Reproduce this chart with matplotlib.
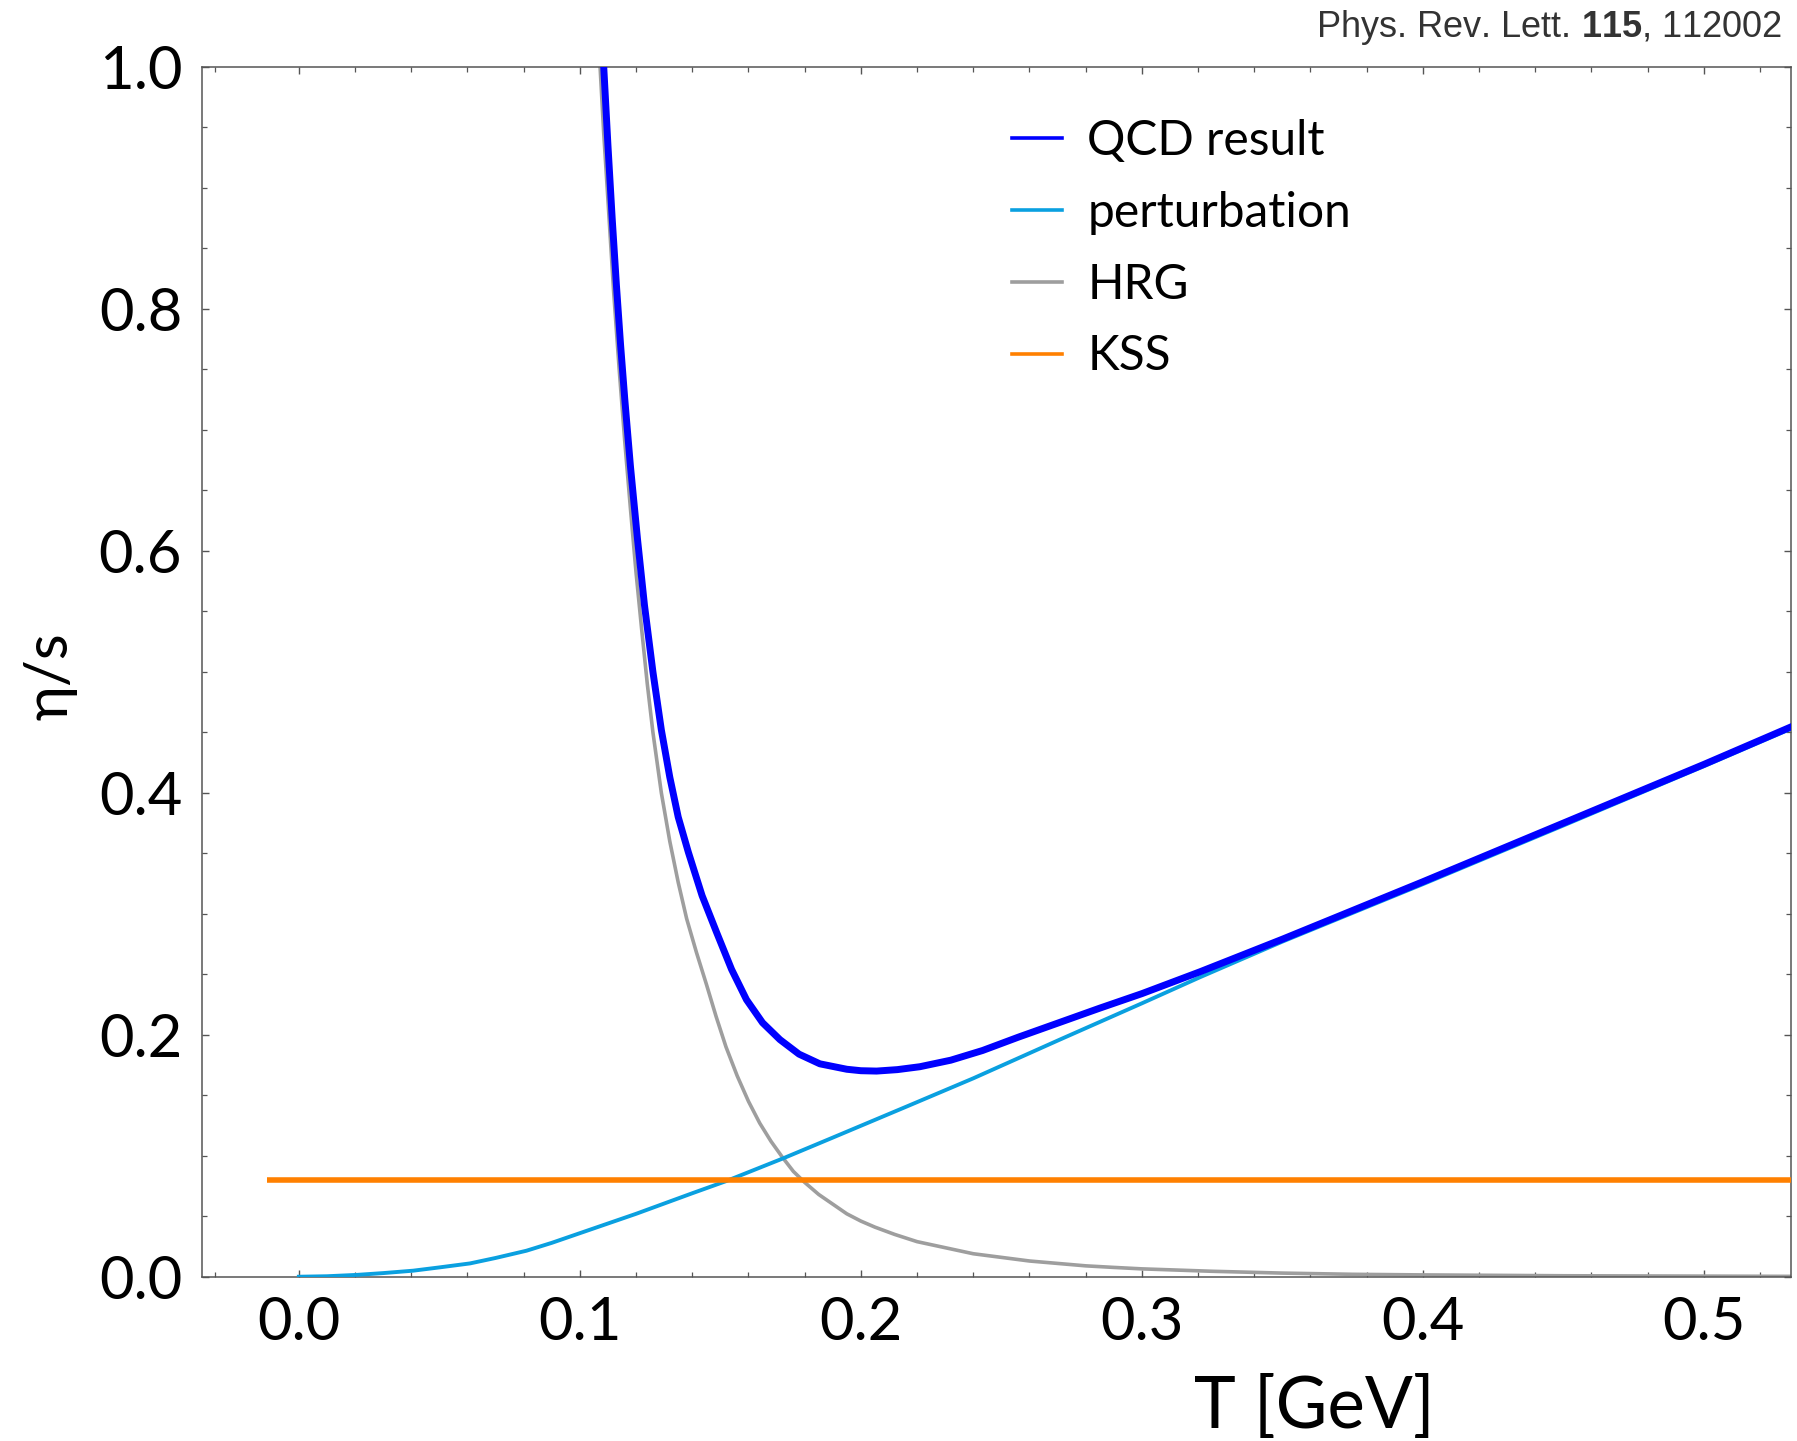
import matplotlib
matplotlib.use("Agg")
import matplotlib.pyplot as plt
from matplotlib.lines import Line2D
from matplotlib.ticker import FixedLocator, FormatStrFormatter

plt.rcParams["font.family"] = ["Lato", "Open Sans", "DejaVu Sans"]
plt.rcParams["mathtext.fontset"] = "custom"
plt.rcParams["mathtext.rm"] = "Liberation Sans"
plt.rcParams["mathtext.bf"] = "Liberation Sans:bold"

# values
qcd_T = [0.1085, 0.110, 0.1115, 0.113, 0.1145, 0.116, 0.118, 0.1205, 0.123, 0.126,
         0.129, 0.132, 0.135, 0.1386, 0.1435, 0.1486, 0.154, 0.1593, 0.165, 0.1712,
         0.178, 0.1854, 0.195, 0.200, 0.2056, 0.213, 0.221, 0.232, 0.2433, 0.256,
         0.2705, 0.285, 0.30, 0.3206, 0.35, 0.40, 0.45, 0.50, 0.531]
qcd_eta = [1.0, 0.935, 0.875, 0.82, 0.77, 0.725, 0.67, 0.61, 0.555, 0.50,
           0.452, 0.413, 0.38, 0.351, 0.315, 0.285, 0.254, 0.229, 0.210, 0.196,
           0.184, 0.176, 0.1715, 0.1703, 0.170, 0.1712, 0.1736, 0.179, 0.187, 0.198,
           0.210, 0.222, 0.234, 0.252, 0.279, 0.3265, 0.375, 0.4235, 0.4545]

pert_T = [0.0, 0.01, 0.0205, 0.03, 0.0407, 0.05, 0.0609, 0.07, 0.081, 0.09, 0.100,
          0.11, 0.12, 0.13, 0.14, 0.152, 0.1725, 0.19, 0.2161, 0.24, 0.2705, 0.30,
          0.3206, 0.35, 0.40, 0.45, 0.50, 0.531]
pert_eta = [0.0, 0.0004, 0.0015, 0.003, 0.005, 0.0077, 0.011, 0.0155, 0.0215, 0.028, 0.036,
            0.044, 0.052, 0.0605, 0.069, 0.079, 0.098, 0.115, 0.1405, 0.164, 0.1957, 0.226,
            0.2475, 0.277, 0.3245, 0.373, 0.422, 0.453]

hrg_T = [0.1072, 0.1085, 0.110, 0.112, 0.114, 0.116, 0.118, 0.120, 0.122, 0.124,
         0.126, 0.129, 0.132, 0.135, 0.138, 0.1415, 0.145, 0.1485, 0.152, 0.156,
         0.160, 0.164, 0.168, 0.172, 0.176, 0.180, 0.185, 0.190, 0.195, 0.200,
         0.205, 0.212, 0.22, 0.23, 0.24, 0.25, 0.26, 0.27, 0.28, 0.29, 0.30,
         0.325, 0.35, 0.375, 0.40, 0.45, 0.50, 0.531]
hrg_eta = [1.0, 0.945, 0.89, 0.815, 0.75, 0.69, 0.635, 0.582, 0.535, 0.49,
           0.45, 0.40, 0.36, 0.326, 0.296, 0.268, 0.242, 0.215, 0.19, 0.166,
           0.145, 0.127, 0.112, 0.099, 0.087, 0.078, 0.068, 0.06, 0.052, 0.046,
           0.041, 0.035, 0.029, 0.024, 0.019, 0.016, 0.013, 0.011, 0.009, 0.0077, 0.0065,
           0.0045, 0.003, 0.002, 0.0015, 0.0008, 0.0005, 0.0003]

kss_T = [-0.0114, 0.531]
kss_eta = [0.0796, 0.0796]

labels = ["QCD result", "perturbation", "HRG", "KSS"]
colors = ["#0000FF", "#0AA0E0", "#9E9E9E", "#FF8000"]

fig = plt.figure(figsize=(17.97, 14.41), dpi=100)
ax = fig.add_axes([0.1122, 0.1140, 0.8843, 0.8395])

ax.plot(hrg_T, hrg_eta, color=colors[2], lw=2.6, zorder=2)
ax.plot(pert_T, pert_eta, color=colors[1], lw=2.8, zorder=3)
ax.plot(kss_T, kss_eta, color=colors[3], lw=4.0, zorder=4, solid_capstyle="butt")
ax.plot(qcd_T, qcd_eta, color=colors[0], lw=5.0, zorder=5)

ax.set_xlim(-0.0346, 0.5309)
ax.set_ylim(0, 1)

ax.xaxis.set_major_locator(FixedLocator([0.0, 0.1, 0.2, 0.3, 0.4, 0.5]))
ax.xaxis.set_minor_locator(FixedLocator([-0.03] + [k * 0.02 for k in range(1, 27) if k % 5 != 0]))
ax.yaxis.set_major_locator(FixedLocator([0.0, 0.2, 0.4, 0.6, 0.8, 1.0]))
ax.yaxis.set_minor_locator(FixedLocator([k * 0.05 for k in range(1, 20) if k % 4 != 0]))
ax.xaxis.set_major_formatter(FormatStrFormatter("%.1f"))
ax.yaxis.set_major_formatter(FormatStrFormatter("%.1f"))

ax.tick_params(which="both", direction="in", top=True, right=True, color="#555555")
ax.tick_params(which="major", length=5, width=1.0, labelsize=43, pad=14)
ax.tick_params(which="minor", length=3.6, width=0.9)
for s in ax.spines.values():
    s.set_color("#555555")
    s.set_linewidth(1.1)

ax.set_xlabel("T [GeV]", fontsize=51)
ax.xaxis.set_label_coords(0.70, -0.081)
ax.set_ylabel("η/s", fontsize=43)
ax.yaxis.set_label_coords(-0.078, 0.4966)

handles = [Line2D([], [], color=c, lw=2.6) for c in colors]
ax.legend(handles, labels, loc="upper left", bbox_to_anchor=(0.510, 0.957),
          frameon=False, fontsize=34.5, handlelength=1.05, handletextpad=0.52,
          labelspacing=0.58, borderpad=0, borderaxespad=0)

fig.text(0.9917, 0.9745, r"Phys. Rev. Lett. $\mathbf{115}$, 112002",
         ha="right", va="baseline", fontsize=26, family="Liberation Sans", color="#333333")

fig.savefig("out.png", dpi=100)
